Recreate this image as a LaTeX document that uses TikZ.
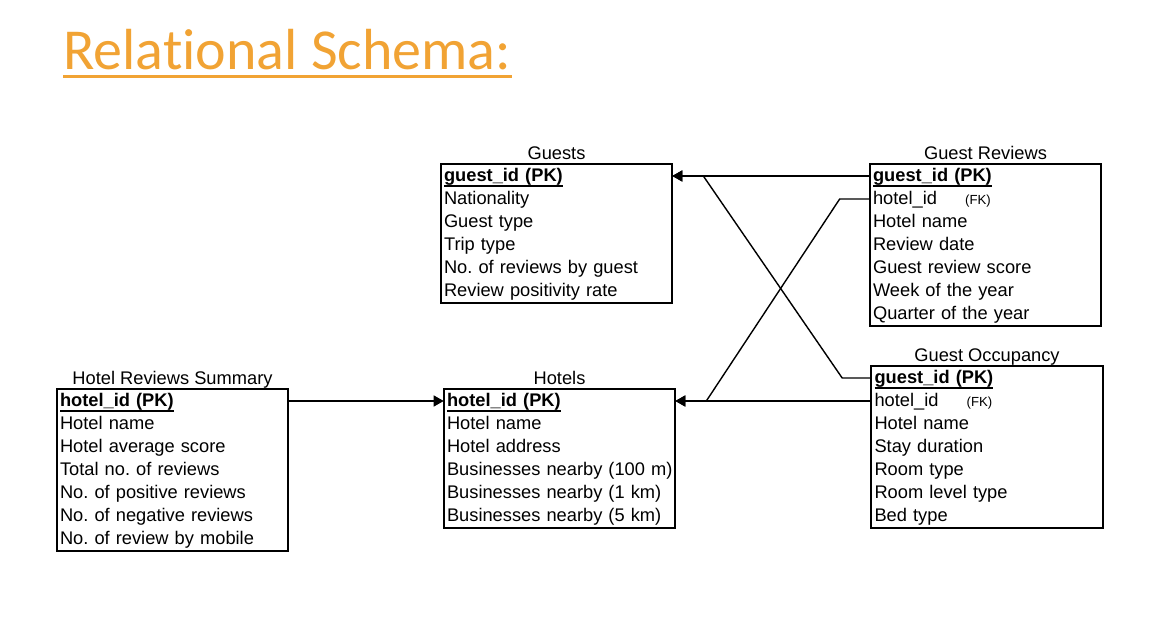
\documentclass[tikz,border=0pt]{standalone}
\usepackage{fontspec}
\setmainfont{Liberation Sans}
\newfontfamily\titlefont[Ligatures=NoCommon]{Carlito}
\usetikzlibrary{arrows.meta}
\definecolor{titleorange}{RGB}{241,163,52}
\newcommand{\pkey}[1]{\setbox0\hbox{\textbf{#1}}\rlap{\rule[-2.6pt]{\wd0}{1pt}}\box0}
\newcommand{\fkey}{\hspace{16pt}{\fontsize{7.5}{9}\selectfont(FK)}}
\frenchspacing

\begin{document}
\begin{tikzpicture}[x=0.02cm, y=-0.02cm,
    field/.style={inner xsep=0.06cm, inner ysep=0pt, text width=4.5cm, align=left,
      minimum height=0.46cm, text height=8.4pt, text depth=1.6pt,
      font=\fontsize{10.4}{13}\selectfont},
    tblname/.style={inner sep=0pt, anchor=base, font=\fontsize{10.4}{13}\selectfont},
    frame/.style={line width=1pt},
    link/.style={line width=0.8pt, -{Triangle[length=0.2cm, width=0.22cm]}}]
    \useasboundingbox (0,0) rectangle (1159,617);

    \node[anchor=base west, inner sep=0pt, text=titleorange,
      font=\titlefont\fontsize{33}{36}\selectfont] (title) at (63,70) {Relational Schema:};
    \draw[titleorange, line width=1.7pt] ([yshift=-0.14cm]title.base west) -- ([yshift=-0.14cm]title.base east);

    % Guests
    \node[tblname] (gstname) at (556.5,160) {Guests};
    \foreach \txt [count=\k from 0] in {{\pkey{guest\_id (PK)}}, Nationality, Guest type,
        Trip type, No. of reviews by guest, Review positivity rate}
        \node[field] (gst\k) at (556.5,176+23*\k) {\mbox{\txt}};
    \draw[frame] (gst0.north west) rectangle (gst5.south east);

    % Guest Reviews
    \node[tblname] (grname) at (985.5,160) {Guest Reviews};
    \foreach \txt [count=\k from 0] in {{\pkey{guest\_id (PK)}}, {hotel\_id\fkey}, Hotel name,
        Review date, Guest review score, Week of the year, Quarter of the year}
        \node[field] (gr\k) at (985.5,176+23*\k) {\mbox{\txt}};
    \draw[frame] (gr0.north west) rectangle (gr6.south east);

    % Guest Occupancy
    \node[tblname] (goname) at (987,362) {Guest Occupancy};
    \foreach \txt [count=\k from 0] in {{\pkey{guest\_id (PK)}}, {hotel\_id\fkey}, Hotel name,
        Stay duration, Room type, Room level type, Bed type}
        \node[field] (go\k) at (987,378+23*\k) {\mbox{\txt}};
    \draw[frame] (go0.north west) rectangle (go6.south east);

    % Hotel Reviews Summary
    \node[tblname] (hrsname) at (172.5,385) {Hotel Reviews Summary};
    \foreach \txt [count=\k from 0] in {{\pkey{hotel\_id (PK)}}, Hotel name, Hotel average score,
        Total no. of reviews, No. of positive reviews, No. of negative reviews,
        No. of review by mobile}
        \node[field] (hrs\k) at (172.5,401+23*\k) {\mbox{\txt}};
    \draw[frame] (hrs0.north west) rectangle (hrs6.south east);

    % Hotels
    \node[tblname] (hotname) at (559.5,385) {Hotels};
    \foreach \txt [count=\k from 0] in {{\pkey{hotel\_id (PK)}}, Hotel name, Hotel address,
        Businesses nearby (100 m), Businesses nearby (1 km), Businesses nearby (5 km)}
        \node[field] (hot\k) at (559.5,401+23*\k) {\mbox{\txt}};
    \draw[frame] (hot0.north west) rectangle (hot5.south east);

    \draw[link] (gr0.west) -- (gst0.east);
    \draw[link] (go0.west) -- ++(-29,0) -- ([xshift=0.62cm]gst0.east) -- (gst0.east);
    \draw[link] (gr1.west) -- ++(-30,0) -- ([xshift=0.62cm]hot0.east) -- (hot0.east);
    \draw[link] (go1.west) -- (hot0.east);
    \draw[link] (hrs0.east) -- (hot0.west);

\end{tikzpicture}
\end{document}
